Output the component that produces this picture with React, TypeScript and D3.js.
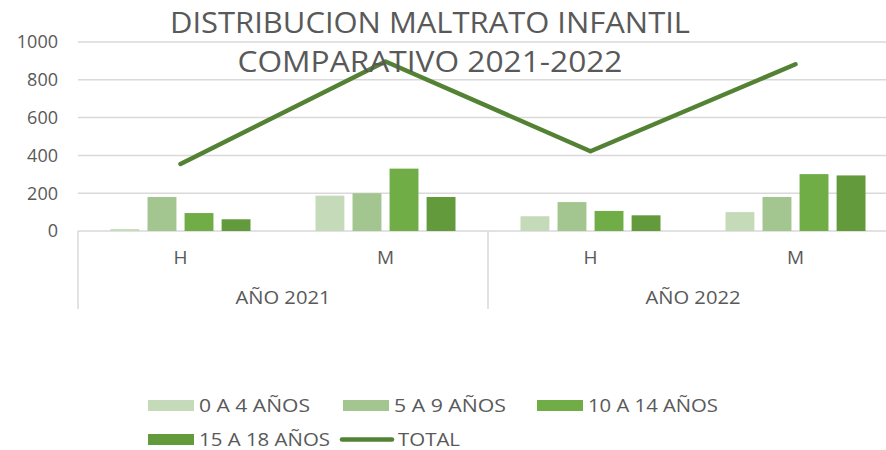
import * as d3 from 'd3';

const years = ['AÑO 2021', 'AÑO 2022'];
const sexes = ['H', 'M'];
const seriesNames = ['0 A 4 AÑOS', '5 A 9 AÑOS', '10 A 14 AÑOS', '15 A 18 AÑOS'];
// one value per category: 2021-H, 2021-M, 2022-H, 2022-M
const age0to4 = [10, 187, 78, 100];
const age5to9 = [180, 200, 153, 180];
const age10to14 = [95, 330, 106, 301];
const age15to18 = [62, 180, 83, 294];
const totals = [355, 897, 422, 882];
const yTicks = [0, 200, 400, 600, 800, 1000];

const barColors = ['#C5DAB9', '#A3C58F', '#70AD47', '#629A3C'];
const lineColor = '#548235';
const textColor = '#595959';
const gridColor = '#D9D9D9';
const font = '"Open Sans", "Liberation Sans", sans-serif';

function App() {
  const width = 886;
  const height = 450;
  const left = 78;
  const right = 898;
  const top = 42;
  const bottom = 231;

  const seriesValues = [age0to4, age5to9, age10to14, age15to18];
  const cats = years.flatMap((yr) => sexes.map((s) => `${yr}|${s}`));

  const x0 = d3.scaleBand<string>().domain(cats).range([left, right]);
  const step = x0.bandwidth();
  const x1 = d3
    .scaleBand<string>()
    .domain(seriesNames)
    .range([32.5, step - 32.5])
    .paddingInner(0.22);
  const y = d3.scaleLinear().domain([0, 1000]).range([bottom, top]);

  const line = d3
    .line<number>()
    .x((_, i) => (x0(cats[i]) ?? 0) + step / 2)
    .y((d) => y(d));

  const yearX = d3.scaleBand<string>().domain(years).range([left, right]);

  // legend layout: [swatch x, text width]
  const legendRow1 = [
    { x: 148, w: 111, i: 0 },
    { x: 343, w: 112, i: 1 },
    { x: 537, w: 130, i: 2 },
  ];

  return (
    <svg
      width={width}
      height={height}
      style={{ position: 'absolute', left: 0, top: 0, background: '#fff' }}
      fontFamily={font}
    >
      {yTicks.map((t) => (
        <g key={t}>
          <line x1={left} x2={width} y1={y(t)} y2={y(t)} stroke={gridColor} strokeWidth={1.5} />
          <text x={58} y={y(t)} dy="0.35em" textAnchor="end" fontSize={18} fill={textColor}>
            {t}
          </text>
        </g>
      ))}

      {/* category axis separators */}
      {[...years.map((yr) => yearX(yr) ?? 0), right].map((xv, i) => (
        <line key={i} x1={xv} x2={xv} y1={bottom} y2={309} stroke={gridColor} strokeWidth={1.5} />
      ))}

      {cats.map((c, ci) => (
        <g key={c} transform={`translate(${x0(c)},0)`}>
          {seriesValues.map((vals, si) => (
            <rect
              key={si}
              x={x1(seriesNames[si])}
              y={y(vals[ci])}
              width={x1.bandwidth()}
              height={bottom - y(vals[ci])}
              fill={barColors[si]}
            />
          ))}
          <text x={step / 2} y={257} dy="0.35em" textAnchor="middle" fontSize={19} fill={textColor}>
            {c.split('|')[1]}
          </text>
        </g>
      ))}

      {years.map((yr) => (
        <text
          key={yr}
          x={(yearX(yr) ?? 0) + yearX.bandwidth() / 2}
          y={297}
          dy="0.35em"
          textAnchor="middle"
          fontSize={19}
          fill={textColor}
          textLength={95}
          lengthAdjust="spacingAndGlyphs"
        >
          {yr}
        </text>
      ))}

      <path d={line(totals) ?? undefined} fill="none" stroke={lineColor} strokeWidth={4.5} strokeLinecap="round" strokeLinejoin="round" />

      <text x={430} y={33} textAnchor="middle" fontSize={29} fill={textColor} textLength={520} lengthAdjust="spacingAndGlyphs">
        DISTRIBUCION MALTRATO INFANTIL
      </text>
      <text x={430} y={72} textAnchor="middle" fontSize={29} fill={textColor} textLength={385} lengthAdjust="spacingAndGlyphs">
        COMPARATIVO 2021-2022
      </text>

      {legendRow1.map((d) => (
        <g key={d.i}>
          <rect x={d.x} y={400} width={46} height={11} fill={barColors[d.i]} />
          <text x={d.x + 51} y={405.5} dy="0.35em" fontSize={18} fill={textColor} textLength={d.w} lengthAdjust="spacingAndGlyphs">
            {seriesNames[d.i]}
          </text>
        </g>
      ))}
      <rect x={148} y={434} width={46} height={11} fill={barColors[3]} />
      <text x={199} y={439.5} dy="0.35em" fontSize={18} fill={textColor} textLength={131} lengthAdjust="spacingAndGlyphs">
        {seriesNames[3]}
      </text>
      <line x1={342} x2={392} y1={439.5} y2={439.5} stroke={lineColor} strokeWidth={4.5} strokeLinecap="round" />
      <text x={398} y={439.5} dy="0.35em" fontSize={18} fill={textColor} textLength={62} lengthAdjust="spacingAndGlyphs">
        TOTAL
      </text>
    </svg>
  );
}

export default App;
